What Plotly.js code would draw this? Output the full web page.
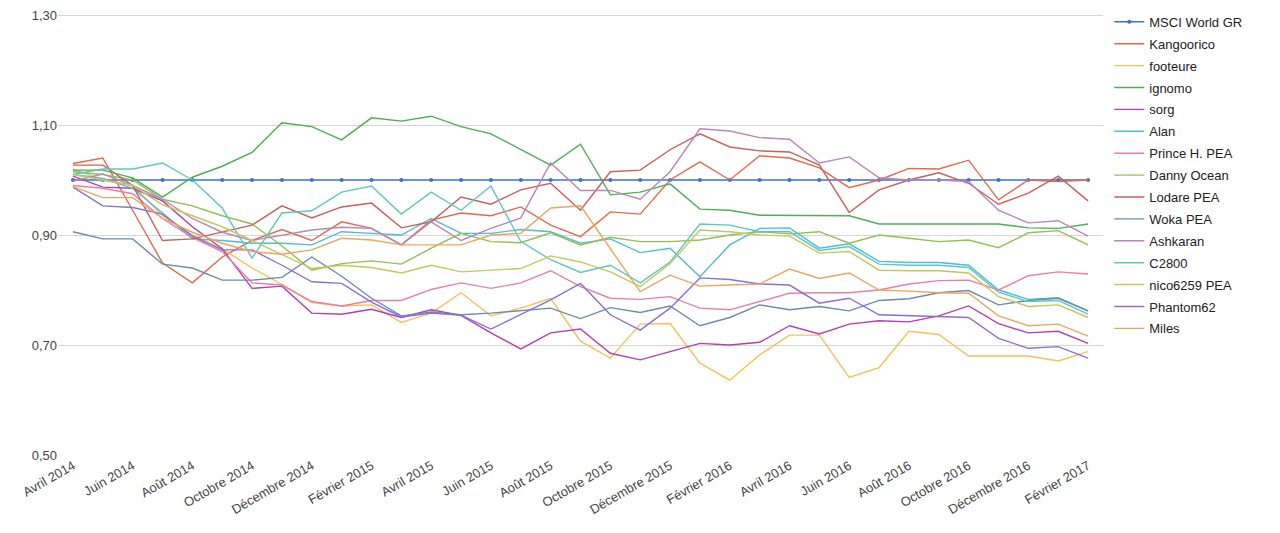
<!DOCTYPE html>
<html><head><meta charset="utf-8">
<script src="https://cdn.plot.ly/plotly-3.0.1.min.js"></script>
<style>html,body{margin:0;padding:0;background:#fff}#chart{width:1280px;height:533px}</style>
</head><body><div id="chart"></div>
<script>
const months = ["Avril 2014","Mai 2014","Juin 2014","Juillet 2014","Août 2014","Septembre 2014","Octobre 2014","Novembre 2014","Décembre 2014","Janvier 2015","Février 2015","Mars 2015","Avril 2015","Mai 2015","Juin 2015","Juillet 2015","Août 2015","Septembre 2015","Octobre 2015","Novembre 2015","Décembre 2015","Janvier 2016","Février 2016","Mars 2016","Avril 2016","Mai 2016","Juin 2016","Juillet 2016","Août 2016","Septembre 2016","Octobre 2016","Novembre 2016","Décembre 2016","Janvier 2017","Février 2017"];
const tickLabels = ["Avril 2014","Juin 2014","Août 2014","Octobre 2014","Décembre 2014","Février 2015","Avril 2015","Juin 2015","Août 2015","Octobre 2015","Décembre 2015","Février 2016","Avril 2016","Juin 2016","Août 2016","Octobre 2016","Décembre 2016","Février 2017"];
const yTicks = [0.5,0.7,0.9,1.1,1.3];

const msci = [1,1,1,1,1,1,1,1,1,1,1,1,1,1,1,1,1,1,1,1,1,1,1,1,1,1,1,1,1,1,1,1,1,1,1];
const kangoorico = [1.030,1.040,0.945,0.849,0.813,0.860,0.890,0.910,0.890,0.924,0.912,0.882,0.927,0.940,0.935,0.951,0.918,0.897,0.942,0.938,1.000,1.033,1.000,1.044,1.040,1.022,0.986,1.000,1.021,1.020,1.036,0.964,1.000,0.997,1.000];
const footeure = [1.020,1.000,0.990,0.935,0.900,0.875,0.840,0.810,0.777,0.771,0.773,0.741,0.758,0.795,0.753,0.767,0.785,0.707,0.676,0.738,0.739,0.667,0.636,0.682,0.718,0.718,0.641,0.659,0.725,0.719,0.680,0.680,0.680,0.671,0.688];
const ignomo = [1.018,1.018,1.004,0.969,1.005,1.025,1.050,1.104,1.097,1.073,1.113,1.107,1.116,1.097,1.084,1.055,1.027,1.065,0.973,0.978,0.993,0.947,0.945,0.936,0.936,0.935,0.935,0.920,0.920,0.920,0.920,0.920,0.913,0.912,0.920];
const sorg = [1.007,0.987,0.985,0.962,0.915,0.875,0.803,0.807,0.758,0.756,0.765,0.750,0.764,0.754,0.722,0.693,0.722,0.729,0.685,0.673,0.688,0.703,0.700,0.705,0.735,0.720,0.738,0.744,0.742,0.753,0.771,0.739,0.722,0.725,0.703];
const alan = [1.010,1.003,0.985,0.940,0.893,0.890,0.885,0.885,0.882,0.906,0.903,0.900,0.930,0.903,0.903,0.910,0.906,0.885,0.893,0.868,0.876,0.824,0.882,0.912,0.913,0.876,0.884,0.852,0.850,0.850,0.845,0.800,0.783,0.786,0.762];
const princeH = [0.990,0.985,0.975,0.930,0.895,0.870,0.813,0.809,0.779,0.771,0.781,0.781,0.801,0.813,0.803,0.813,0.835,0.806,0.785,0.783,0.788,0.767,0.764,0.779,0.794,0.795,0.795,0.800,0.811,0.817,0.818,0.800,0.826,0.833,0.829];
const dannyOcean = [1.015,1.010,1.000,0.965,0.953,0.935,0.920,0.880,0.836,0.848,0.853,0.847,0.876,0.903,0.888,0.886,0.904,0.882,0.896,0.888,0.888,0.891,0.900,0.906,0.902,0.906,0.885,0.900,0.894,0.888,0.891,0.877,0.904,0.908,0.882];
const lodare = [1.027,1.027,0.990,0.890,0.893,0.905,0.918,0.953,0.931,0.951,0.958,0.913,0.924,0.969,0.956,0.982,0.994,0.945,1.015,1.018,1.055,1.084,1.060,1.053,1.051,1.027,0.941,0.982,1.000,1.013,0.994,0.956,0.976,1.007,0.962];
const woka = [0.906,0.893,0.893,0.847,0.840,0.818,0.818,0.823,0.860,0.825,0.785,0.753,0.760,0.755,0.758,0.762,0.767,0.748,0.768,0.759,0.771,0.735,0.750,0.773,0.764,0.770,0.762,0.781,0.784,0.795,0.799,0.773,0.781,0.785,0.762];
const ashkaran = [0.998,1.011,0.990,0.965,0.930,0.905,0.890,0.900,0.909,0.914,0.912,0.882,0.924,0.890,0.912,0.931,1.031,0.981,0.981,0.965,1.015,1.093,1.089,1.077,1.074,1.031,1.042,1.004,1.000,1.000,0.997,0.945,0.922,0.926,0.898];
const c2800 = [1.010,1.020,1.020,1.031,1.000,0.949,0.858,0.940,0.944,0.978,0.989,0.938,0.978,0.945,0.989,0.888,0.855,0.832,0.845,0.813,0.851,0.920,0.918,0.906,0.906,0.872,0.879,0.847,0.845,0.845,0.841,0.796,0.779,0.781,0.756];
const nico6259 = [1.010,1.000,0.990,0.955,0.935,0.915,0.890,0.865,0.839,0.845,0.841,0.831,0.845,0.833,0.836,0.839,0.862,0.851,0.833,0.806,0.848,0.909,0.906,0.900,0.898,0.867,0.870,0.836,0.835,0.835,0.831,0.788,0.770,0.773,0.750];
const phantom62 = [0.987,0.953,0.950,0.938,0.898,0.873,0.873,0.845,0.815,0.812,0.778,0.751,0.758,0.754,0.729,0.755,0.782,0.812,0.755,0.727,0.767,0.822,0.819,0.811,0.809,0.776,0.785,0.755,0.753,0.752,0.750,0.712,0.694,0.697,0.676];
const miles = [0.988,0.968,0.968,0.930,0.905,0.885,0.870,0.865,0.873,0.894,0.891,0.882,0.882,0.882,0.900,0.903,0.949,0.953,0.875,0.797,0.827,0.807,0.809,0.811,0.838,0.821,0.831,0.800,0.798,0.795,0.794,0.753,0.735,0.738,0.716];

const seriesNames = ["MSCI World GR","Kangoorico","footeure","ignomo","sorg","Alan","Prince H. PEA","Danny Ocean","Lodare PEA","Woka PEA","Ashkaran","C2800","nico6259 PEA","Phantom62","Miles"];
const seriesData = [msci,kangoorico,footeure,ignomo,sorg,alan,princeH,dannyOcean,lodare,woka,ashkaran,c2800,nico6259,phantom62,miles];
const colors = ["#3d6fd1","#e06a4e","#f7bf5a","#4fae55","#b43fb4","#4fbcd6","#e880a2","#93c052","#c9605c","#6a8cae","#b886b8","#5ec8bf","#c8c65a","#8a70d6","#eda55e"];

const traces = seriesNames.map((n,i)=>({
  type:'scatter', mode: i===0 ? 'lines+markers' : 'lines',
  name:n, x:months, y:seriesData[i], legendgroup:'g'+i,
  line:{color:colors[i], width:1.4},
  marker:{color:colors[i], size:4}
}));

const layout = {
  width:1280, height:533,
  margin:{l:58, r:177, t:0, b:78},
  paper_bgcolor:'#fff', plot_bgcolor:'#fff',
  separators:', ',
  font:{family:'Arial, Liberation Sans, sans-serif', size:13, color:'#444'},
  xaxis:{type:'category', range:[-0.5, months.length-0.5], autorange:false, automargin:false,
    showgrid:false, zeroline:false, showline:false, ticks:'',
    tickmode:'array', tickvals:tickLabels, ticktext:tickLabels, tickangle:-30,
    tickfont:{size:13, color:'#444'}},
  yaxis:{range:[0.5,1.3+15/550], autorange:false, automargin:false, tickmode:'array', tickvals:yTicks, tickformat:'.2f',
    showgrid:true, gridcolor:'#d6d6d6', zeroline:false, showline:false, ticks:'',
    tickfont:{size:13, color:'#444'}},
  legend:{x:1.006, xanchor:'left', y:0.985, yanchor:'top', tracegroupgap:2,
    font:{size:13, color:'#222'}, bgcolor:'rgba(0,0,0,0)'},
  showlegend:true
};
Plotly.newPlot('chart', traces, layout, {displayModeBar:false, staticPlot:true});
</script></body></html>
